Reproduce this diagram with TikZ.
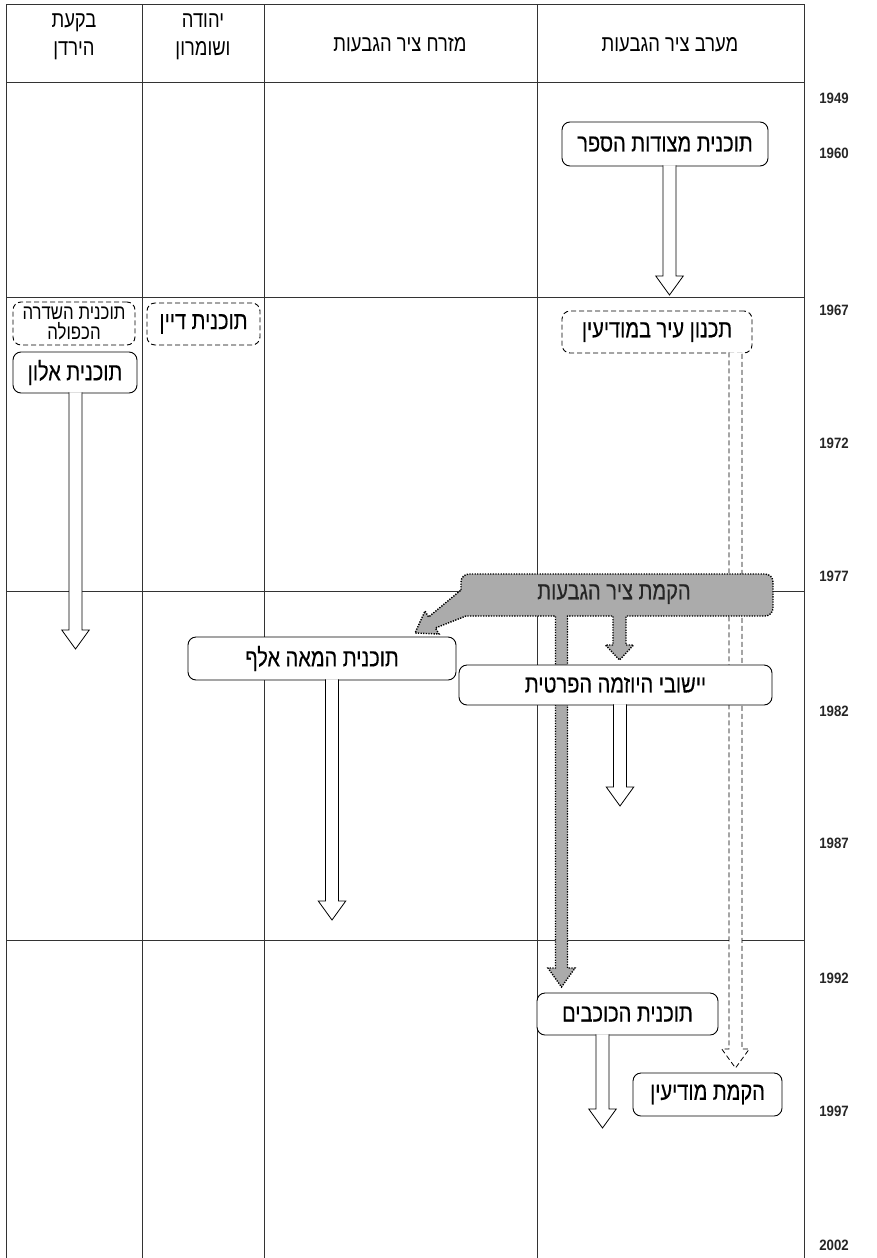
\documentclass[tikz,border=0pt]{standalone}
\usepackage{fontspec}
\setmainfont{Liberation Sans}
\newfontfamily\heb[Script=Hebrew, FakeStretch=0.8]{Liberation Sans}
\newfontfamily\hebb[Script=Hebrew, FakeStretch=0.8, FakeBold=0.35]{Liberation Sans}
\newfontfamily\yrfont[FakeStretch=0.88]{Liberation Sans}
\usetikzlibrary{calc}
\TeXXeTstate=1
\newcommand\blockarrow[3]{%
  \path[#1] let \p1=(#2.south), \p2=(#3) in
   (\x2-6.5pt,\y1+1pt) -- (\x2-6.5pt,\y2+19pt) -- (\x2-13.75pt,\y2+19pt) -- (\p2)
   -- (\x2+13.75pt,\y2+19pt) -- (\x2+6.5pt,\y2+19pt) -- (\x2+6.5pt,\y1+1pt);}
\newcommand\hb[1]{\beginR #1\endR}
\tikzset{
  gridline/.style={draw=black!80, line width=0.9pt},
  box/.style={draw, rounded corners=8pt, fill=white, line width=0.9pt, inner sep=0pt,
    align=center, font=\hebb\fontsize{25}{27}\selectfont},
  dbox/.style={box, dash pattern=on 5pt off 3pt},
  harrow/.style={draw, fill=white, line width=0.8pt},
  darrow/.style={harrow, dash pattern=on 5pt off 3pt},
  garrow/.style={draw, fill=black!33, line width=1.4pt, dash pattern=on 1.3pt off 1.3pt},
  year/.style={font=\yrfont\bfseries\fontsize{15}{16}\selectfont, text=black!85},
  head/.style={font=\heb\fontsize{23}{28}\selectfont, align=center},
}
\begin{document}
\begin{tikzpicture}[x=1pt,y=-1pt]
\useasboundingbox (0,0) rectangle (877,1258);
% grid
\draw[gridline] (6,4) -- (804,4);
\foreach \yy in {82,297,591,940} \draw[gridline] (6,\yy) -- (804,\yy);
\foreach \xx in {6,142,264,537,804} \draw[gridline] (\xx,4) -- (\xx,1258);
% headers
\node[head] (h1) at (74,37) {\hb{בקעת}\\\hb{הירדן}};
\node[head] (h2) at (203,37) {\hb{יהודה}\\\hb{ושומרון}};
\node[head] (h3) at (400,45) {\hb{מזרח ציר הגבעות}};
\node[head] (h4) at (670,45) {\hb{מערב ציר הגבעות}};
% years
\foreach \yr/\yy in {1949/98,1960/153,1967/310,1972/443,1977/576,1982/711,1987/843,1992/978,1997/1111,2002/1245}
  \node[year] (y\yr) at (834,\yy) {\yr};
% tip coordinates
\coordinate (tsfar) at (669.5,295);
\coordinate (tallon) at (75.5,649);
\coordinate (tmeah) at (332,920);
\coordinate (tpriv) at (620,806);
\coordinate (tkoch) at (602.5,1128);
\coordinate (tmod) at (735.5,1068);
% boxes (upper part)
\node[box, minimum width=206pt, minimum height=44pt] (sfar) at (665,144) {\hb{תוכנית מצודות הספר}};
\blockarrow{harrow}{sfar}{tsfar}
\node[dbox, minimum width=190pt, minimum height=42pt] (modplan) at (657,332) {\hb{תכנון עיר במודיעין}};
\blockarrow{darrow}{modplan}{tmod}
\node[dbox, minimum width=122pt, minimum height=43pt, font=\heb\fontsize{21}{20}\selectfont] (shdera) at (74,323.5) {\hb{תוכנית השדרה}\\\hb{הכפולה}};
\node[dbox, minimum width=113pt, minimum height=42pt] (dayan) at (203.5,324) {\hb{תוכנית דיין}};
\node[box, minimum width=124pt, minimum height=41pt] (allon) at (75,372.5) {\hb{תוכנית אלון}};
\blockarrow{harrow}{allon}{tallon}
\node[box, minimum width=268pt, minimum height=43pt] (meah) at (322,658.5) {\hb{תוכנית המאה אלף}};
\blockarrow{harrow}{meah}{tmeah}
% grey callout with arrows
\path[garrow] (461,590) [rounded corners=8pt] -- (461,574) -- (773,574) -- (773,616) -- (700,616)
  [sharp corners] -- (626,616) -- (626,645) -- (633.5,645) -- (619.5,660) -- (605.5,645) -- (613,645)
  -- (613,616) -- (567.5,616) -- (567.5,968) -- (575,968) -- (561.5,987) -- (548,968) -- (555.5,968)
  -- (555.5,616) -- (466,616) -- (435.4,628) -- (439,634) -- (415,633) -- (425,611) -- (428.6,617) -- cycle;
\node[font=\hebb\fontsize{25}{27}\selectfont, text=black!85] (est) at (614,594) {\hb{הקמת ציר הגבעות}};
% lower boxes
\node[box, minimum width=313pt, minimum height=40pt] (priv) at (615.5,685) {\hb{יישובי היוזמה הפרטית}};
\blockarrow{harrow}{priv}{tpriv}
\node[box, minimum width=181pt, minimum height=42pt] (koch) at (627.5,1014) {\hb{תוכנית הכוכבים}};
\blockarrow{harrow}{koch}{tkoch}
\node[box, minimum width=149pt, minimum height=43pt] (modiin) at (707.5,1094.5) {\hb{הקמת מודיעין}};
\end{tikzpicture}
\end{document}
